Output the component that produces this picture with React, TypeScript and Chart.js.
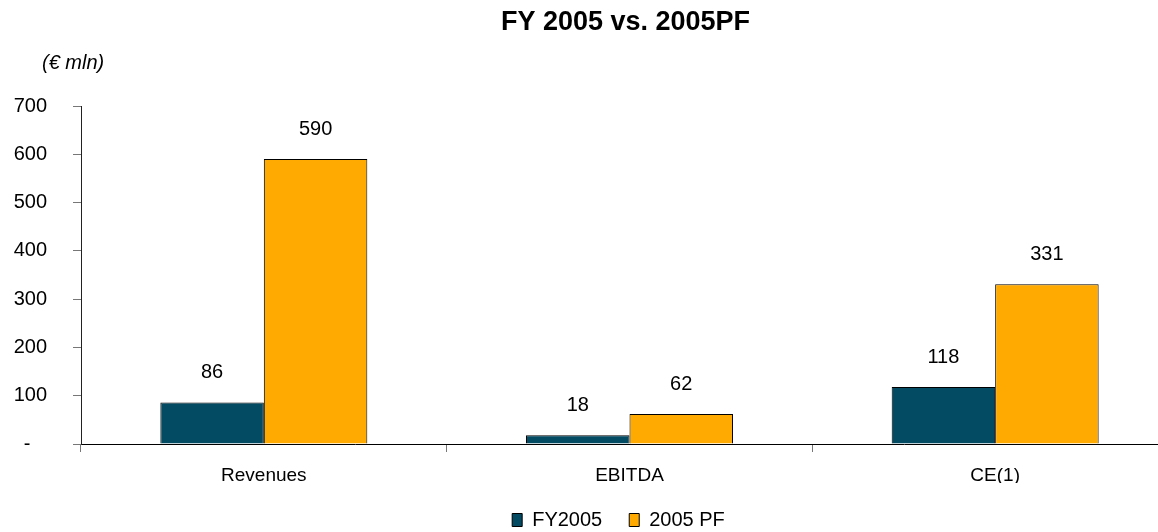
import React, { useEffect, useRef } from "react";
import { Chart, registerables } from "chart.js";

Chart.register(...registerables);

const categories = ["Revenues", "EBITDA", "CE(1)"];
const fy2005 = [86, 18, 118];
const pf2005 = [590, 62, 331];
const seriesNames = ["FY2005", "2005 PF"];
const yTicks = [0, 100, 200, 300, 400, 500, 600, 700];

const DARK = "#034A63";
const ORANGE = "#FFAA00";
const FONT = "'Liberation Sans', Arial, sans-serif";

// Legend sits a little left of the plot-area centre.
const LEGEND_SHIFT = -11;

const decorations = {
  id: "decorations",
  afterLayout(chart: any) {
    if (chart.legend) {
      chart.legend.left += LEGEND_SHIFT;
      chart.legend.right += LEGEND_SHIFT;
    }
  },
  afterDatasetsDraw(chart: any) {
    const ctx = chart.ctx;
    ctx.save();
    ctx.fillStyle = "#000";
    ctx.font = `20px ${FONT}`;
    ctx.textAlign = "center";
    ctx.textBaseline = "middle";
    chart.data.datasets.forEach((ds: any, i: number) => {
      const meta = chart.getDatasetMeta(i);
      meta.data.forEach((bar: any, j: number) => {
        ctx.fillText(String(ds.data[j]), bar.x, bar.y - 30);
      });
    });
    ctx.restore();
  },
  afterDraw(chart: any) {
    const ctx = chart.ctx;
    const area = chart.chartArea;
    ctx.save();
    ctx.fillStyle = "#000";
    ctx.textBaseline = "middle";
    ctx.textAlign = "center";
    ctx.font = `bold 27px ${FONT}`;
    ctx.fillText("FY 2005 vs. 2005PF", (area.left + area.right) / 2 - 4, 23);
    ctx.textAlign = "left";
    ctx.font = `italic 20px ${FONT}`;
    ctx.fillText("(€ mln)", 42, 63);
    ctx.restore();
  },
};

export default function App() {
  const ref = useRef<HTMLCanvasElement>(null);

  useEffect(() => {
    if (!ref.current) return;
    const chart = new Chart(ref.current, {
      type: "bar",
      data: {
        labels: categories,
        datasets: [
          {
            label: seriesNames[0],
            data: fy2005,
            backgroundColor: DARK,
            borderColor: "#000",
            borderWidth: 1,
            categoryPercentage: 0.566,
            barPercentage: 1,
          },
          {
            label: seriesNames[1],
            data: pf2005,
            backgroundColor: ORANGE,
            borderColor: "#000",
            borderWidth: 1,
            categoryPercentage: 0.566,
            barPercentage: 1,
          },
        ],
      },
      plugins: [decorations],
      options: {
        animation: false,
        responsive: false,
        devicePixelRatio: 1,
        layout: { padding: { top: 106, right: 2, left: 0, bottom: -8 } },
        plugins: {
          title: { display: false },
          tooltip: { enabled: false },
          legend: {
            position: "bottom",
            fullSize: false,
            labels: {
              color: "#000",
              font: { family: FONT, size: 20 },
              boxWidth: 10,
              boxHeight: 13,
              padding: 27,
            },
          },
        },
        scales: {
          x: {
            grid: {
              drawOnChartArea: false,
              drawTicks: true,
              tickLength: 8,
              color: "#777",
            },
            border: { color: "#000", width: 1 },
            ticks: {
              color: "#000",
              font: { family: FONT, size: 19 },
              padding: 12,
            },
            afterFit(scale: any) {
              scale.height = 39;
            },
          },
          y: {
            min: 0,
            max: 700,
            afterBuildTicks(scale: any) {
              scale.ticks = yTicks.map((v) => ({ value: v }));
            },
            grid: {
              drawOnChartArea: false,
              drawTicks: true,
              tickLength: 8,
              color: "#777",
            },
            border: { color: "#222", width: 1 },
            ticks: {
              color: "#000",
              font: { family: FONT, size: 20 },
              padding: 26,
              callback: (v: any) => (Number(v) === 0 ? "-   " : String(v)),
            },
            afterFit(scale: any) {
              scale.width = 81;
            },
          },
        },
      },
    });
    return () => chart.destroy();
  }, []);

  return (
    <div
      style={{
        position: "fixed",
        left: 0,
        top: 0,
        width: 1158,
        height: 532,
        overflow: "hidden",
        background: "#fff",
      }}
    >
      <canvas ref={ref} width={1180} height={532} />
    </div>
  );
}
